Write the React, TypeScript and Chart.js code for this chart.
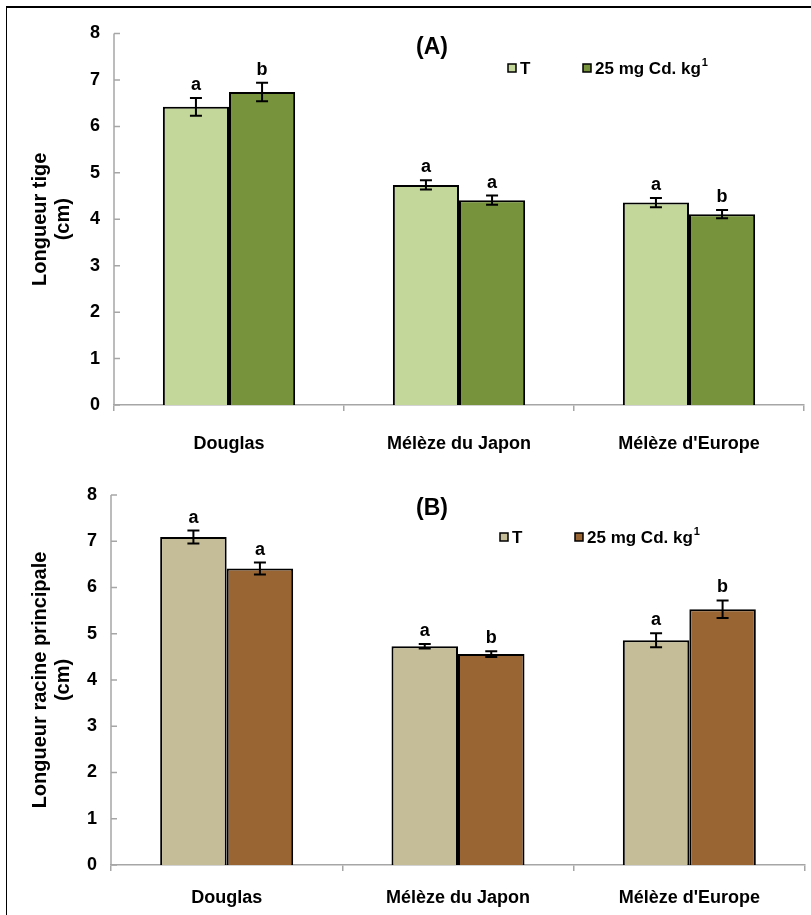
import React, { useEffect, useRef } from "react";
import { Chart, registerables } from "chart.js";
Chart.register(...registerables);

const categories = ["Douglas", "Mélèze du Japon", "Mélèze d'Europe"];
const yTicks = [0, 1, 2, 3, 4, 5, 6, 7, 8];
const seriesNames = ["T", "25 mg Cd. kg"];

const stemControl = [6.42, 4.74, 4.36];
const stemCd = [6.74, 4.41, 4.11];
const stemControlErr = [0.19, 0.1, 0.1];
const stemCdErr = [0.2, 0.1, 0.09];
const stemControlLetters = ["a", "a", "a"];
const stemCdLetters = ["b", "a", "b"];

const rootControl = [7.09, 4.73, 4.86];
const rootCd = [6.41, 4.56, 5.53];
const rootControlErr = [0.14, 0.05, 0.15];
const rootCdErr = [0.13, 0.06, 0.19];
const rootControlLetters = ["a", "a", "a"];
const rootCdLetters = ["a", "b", "b"];

const FONT = "'Liberation Sans', Arial, sans-serif";
const AXIS = "#a6a6a6";

type PanelProps = {
  top: number;
  height: number;
  control: number[];
  cd: number[];
  controlErr: number[];
  cdErr: number[];
  controlLetters: string[];
  cdLetters: string[];
  colors: [string, string];
  title: string;
  yTitle: string[];
  areaTop: number;
  areaBottom: number;
  areaLeft: number;
  areaRight: number;
  titleX: number;
  titleY: number;
  legendX: number;
  legendY: number;
  yTitleX: number[];
  xPad: number;
};

function Panel(p: PanelProps) {
  const ref = useRef<HTMLCanvasElement>(null);
  useEffect(() => {
    const canvas = ref.current!;
    const overlay = {
      id: "overlay",
      afterDatasetsDraw(chart: any) {
        const ctx = chart.ctx;
        const y = chart.scales.y;
        const ca = chart.chartArea;
        ctx.save();
        // y axis line and inward ticks
        ctx.strokeStyle = AXIS;
        ctx.lineWidth = 1.5;
        ctx.beginPath();
        ctx.moveTo(ca.left, y.getPixelForValue(yTicks[yTicks.length - 1]));
        ctx.lineTo(ca.left, ca.bottom);
        yTicks.forEach((t) => {
          const py = y.getPixelForValue(t);
          ctx.moveTo(ca.left, py);
          ctx.lineTo(ca.left + 6, py);
        });
        ctx.stroke();
        // error bars & letters
        const errs = [p.controlErr, p.cdErr];
        const vals = [p.control, p.cd];
        const letters = [p.controlLetters, p.cdLetters];
        ctx.strokeStyle = "#000";
        ctx.fillStyle = "#000";
        ctx.lineWidth = 2;
        ctx.font = `bold 18px ${FONT}`;
        ctx.textAlign = "center";
        ctx.textBaseline = "alphabetic";
        for (let d = 0; d < 2; d++) {
          const meta = chart.getDatasetMeta(d);
          meta.data.forEach((el: any, i: number) => {
            const v = vals[d][i];
            const e = errs[d][i];
            const yt = y.getPixelForValue(v + e);
            const yb = y.getPixelForValue(v - e);
            ctx.beginPath();
            ctx.moveTo(el.x, yt);
            ctx.lineTo(el.x, yb);
            ctx.moveTo(el.x - 6, yt);
            ctx.lineTo(el.x + 6, yt);
            ctx.moveTo(el.x - 6, yb);
            ctx.lineTo(el.x + 6, yb);
            ctx.stroke();
            ctx.fillText(letters[d][i], el.x, yt - 8);
          });
        }
        // panel title
        ctx.font = `bold 23px ${FONT}`;
        ctx.textBaseline = "middle";
        ctx.fillText(p.title, p.titleX, p.titleY);
        // legend
        ctx.font = `bold 17px ${FONT}`;
        ctx.textAlign = "left";
        ctx.lineWidth = 1.5;
        const drawSwatch = (x: number, c: string) => {
          ctx.fillStyle = c;
          ctx.fillRect(x, p.legendY - 4, 8, 8);
          ctx.strokeStyle = "#000";
          ctx.strokeRect(x, p.legendY - 4, 8, 8);
        };
        drawSwatch(p.legendX, p.colors[0]);
        ctx.fillStyle = "#000";
        ctx.fillText(seriesNames[0], p.legendX + 12, p.legendY + 1);
        const x2 = p.legendX + 75;
        drawSwatch(x2, p.colors[1]);
        ctx.fillStyle = "#000";
        ctx.fillText(seriesNames[1], x2 + 12, p.legendY + 1);
        const w = ctx.measureText(seriesNames[1]).width;
        ctx.font = `bold 11px ${FONT}`;
        ctx.fillText("1", x2 + 12 + w + 1, p.legendY - 5);
        // y title
        ctx.font = `bold 20px ${FONT}`;
        ctx.textAlign = "center";
        const cy = (ca.top + ca.bottom) / 2;
        p.yTitle.forEach((line, k) => {
          ctx.save();
          ctx.translate(p.yTitleX[k], cy);
          ctx.rotate(-Math.PI / 2);
          ctx.fillText(line, 0, 0);
          ctx.restore();
        });
        ctx.restore();
      },
    };
    const chart = new Chart(canvas, {
      type: "bar",
      data: {
        labels: categories,
        datasets: [
          {
            label: seriesNames[0],
            data: p.control,
            backgroundColor: p.colors[0],
            borderColor: "#000",
            borderWidth: 2,
            categoryPercentage: 0.575,
            barPercentage: 1,
          },
          {
            label: seriesNames[1],
            data: p.cd,
            backgroundColor: p.colors[1],
            borderColor: "#000",
            borderWidth: 2,
            categoryPercentage: 0.575,
            barPercentage: 1,
          },
        ],
      },
      options: {
        responsive: false,
        animation: false,
        layout: {
          padding: { top: p.areaTop, right: 811 - p.areaRight, left: 0, bottom: 0 },
        },
        plugins: { legend: { display: false }, tooltip: { enabled: false } },
        scales: {
          x: {
            afterFit: (s: any) => {
              s.height = p.height - p.areaBottom;
            },
            grid: {
              offset: true,
              drawOnChartArea: false,
              color: AXIS,
              lineWidth: 1.5,
              tickLength: 6,
            },
            border: { display: true, color: AXIS, width: 1.5 },
            ticks: {
              color: "#000",
              font: { family: FONT, size: 18, weight: "bold" },
              padding: p.xPad,
              maxRotation: 0,
            },
          },
          y: {
            min: 0,
            max: 8,
            afterFit: (s: any) => {
              s.width = p.areaLeft;
            },
            afterBuildTicks: (s: any) => {
              s.ticks = yTicks.map((v) => ({ value: v }));
            },
            grid: { display: false, drawTicks: false },
            border: { display: false },
            ticks: {
              color: "#000",
              font: { family: FONT, size: 18, weight: "bold" },
              padding: 14,
            },
          },
        },
      },
      plugins: [overlay],
    } as any);
    return () => chart.destroy();
  }, []);
  return (
    <canvas
      ref={ref}
      width={811}
      height={p.height}
      style={{ position: "absolute", left: 0, top: p.top, width: 811, height: p.height }}
    />
  );
}

export default function App() {
  return (
    <div
      style={{
        position: "absolute",
        left: 0,
        top: 0,
        width: 811,
        height: 915,
        overflow: "hidden",
        background: "#fff",
      }}
    >
      <div
        style={{
          position: "absolute",
          left: 6,
          top: 6,
          width: 900,
          height: 1000,
          borderTop: "2px solid #000",
          borderLeft: "1.5px solid #000",
        }}
      />
      <Panel
        top={0}
        height={460}
        control={stemControl}
        cd={stemCd}
        controlErr={stemControlErr}
        cdErr={stemCdErr}
        controlLetters={stemControlLetters}
        cdLetters={stemCdLetters}
        colors={["#C4D79B", "#77933C"]}
        title="(A)"
        yTitle={["Longueur tige", "(cm)"]}
        areaTop={33.5}
        areaBottom={405}
        areaLeft={114}
        areaRight={804}
        titleX={432}
        titleY={48}
        legendX={508}
        legendY={68}
        yTitleX={[40, 63]}
        xPad={22}
      />
      <Panel
        top={460}
        height={455}
        control={rootControl}
        cd={rootCd}
        controlErr={rootControlErr}
        cdErr={rootCdErr}
        controlLetters={rootControlLetters}
        cdLetters={rootCdLetters}
        colors={["#C4BD97", "#996633"]}
        title="(B)"
        yTitle={["Longueur racine principale", "(cm)"]}
        areaTop={35}
        areaBottom={405}
        areaLeft={111}
        areaRight={805}
        titleX={432}
        titleY={49}
        legendX={500}
        legendY={77}
        yTitleX={[40, 63]}
        xPad={16}
      />
    </div>
  );
}
